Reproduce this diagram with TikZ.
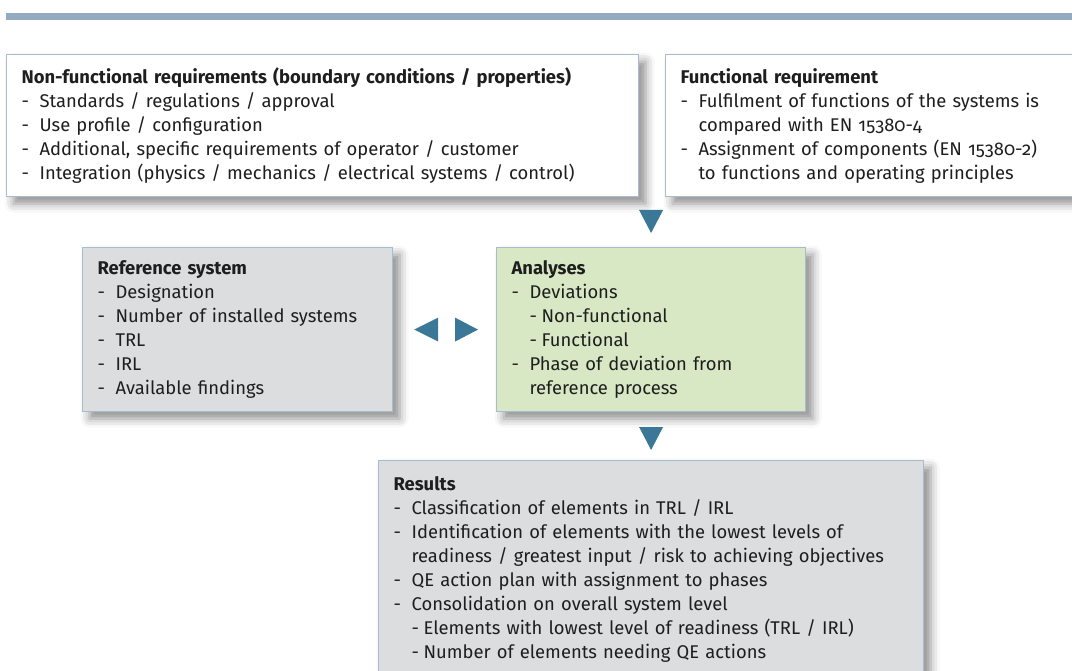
\documentclass[tikz,border=0pt]{standalone}
\usepackage{fontspec}
\setmainfont{Fira Sans}[Numbers=OldStyle]
\usetikzlibrary{positioning, calc, shadows.blur}

\definecolor{barblue}{HTML}{93AAC0}
\definecolor{framec}{HTML}{A8BCD0}
\definecolor{greyfill}{HTML}{DCDDDF}
\definecolor{greenfill}{HTML}{D8E7C4}
\definecolor{markc}{HTML}{3B7797}
\definecolor{textc}{HTML}{1E1E1E}

\newcommand\dashitem{\makebox[18pt][l]{-}}
\newcommand\dashcont{\hspace*{18pt}}
\newcommand\dashsub{\hspace*{18pt}\makebox[12pt][l]{-}}

\tikzset{
  panel/.style={draw=framec, line width=1.2pt, anchor=north west, align=left,
    inner xsep=15pt, inner ysep=0pt, text=textc,
    font=\fontsize{18.4}{24}\selectfont,
    blur shadow={shadow xshift=7pt, shadow yshift=-7pt, shadow blur radius=9pt, shadow opacity=45}},
  marker/.style={fill=markc}
}

\begin{document}
\begin{tikzpicture}[x=1pt, y=-1pt]
  \useasboundingbox (0,0) rectangle (1072,671);

  % Draw the bar on top
  \fill[barblue] (6,13) rectangle (1080,20);

  % Draw the boxes
  \node[panel, fill=white, text width=602pt, minimum height=142pt] (nonfunc) at (6,54)
    {\textbf{Non-functional requirements (boundary conditions / properties)}\\
     \dashitem Standards / regulations / approval\\
     \dashitem Use profile / configuration\\
     \dashitem Additional, specific requirements of operator / customer\\
     \dashitem Integration (physics / mechanics / electrical systems / control)};

  \node[panel, fill=white, text width=400pt, minimum height=142pt] (func) at (665,54)
    {\textbf{Functional requirement}\\
     \dashitem Fulfilment of functions of the systems is\\
     \dashcont compared with EN 15380-4\\
     \dashitem Assignment of components (EN 15380-2)\\
     \dashcont to functions and operating principles};

  \node[panel, fill=greyfill, text width=280pt, minimum height=164pt] (refsys) at (82,247)
    {\textbf{Reference system}\\
     \dashitem Designation\\
     \dashitem Number of installed systems\\
     \dashitem TRL\\
     \dashitem IRL\\
     \dashitem Available findings};

  \node[panel, fill=greenfill, text width=279pt, minimum height=164pt] (analyses) at (496,247)
    {\textbf{Analyses}\\
     \dashitem Deviations\\
     \dashsub Non-functional\\
     \dashsub Functional\\
     \dashitem Phase of deviation from\\
     \dashcont reference process};

  \node[panel, fill=greyfill, text width=515pt, minimum height=218pt] (results) at (378,460)
    {\textbf{Results}\\
     \dashitem Classification of elements in TRL / IRL\\
     \dashitem Identification of elements with the lowest levels of\\
     \dashcont readiness / greatest input / risk to achieving objectives\\
     \dashitem QE action plan with assignment to phases\\
     \dashitem Consolidation on overall system level\\
     \dashsub Elements with lowest level of readiness (TRL / IRL)\\
     \dashsub Number of elements needing QE actions};

  % Draw the markers between the boxes
  \fill[marker] ($(analyses.north)+(-12,-37)$) -- ++(24,0) -- ++(-12,23) -- cycle;
  \fill[marker] ($(results.north)+(0,-33)$) -- ++(12,0) -- ++(-12,23) -- ++(-12,-23) -- cycle;
  \fill[marker] ($(refsys.east)+(21,0)$) -- ++(24,-12) -- ++(0,24) -- cycle;
  \fill[marker] ($(analyses.west)+(-18,0)$) -- ++(-23,-12) -- ++(0,24) -- cycle;
\end{tikzpicture}
\end{document}
